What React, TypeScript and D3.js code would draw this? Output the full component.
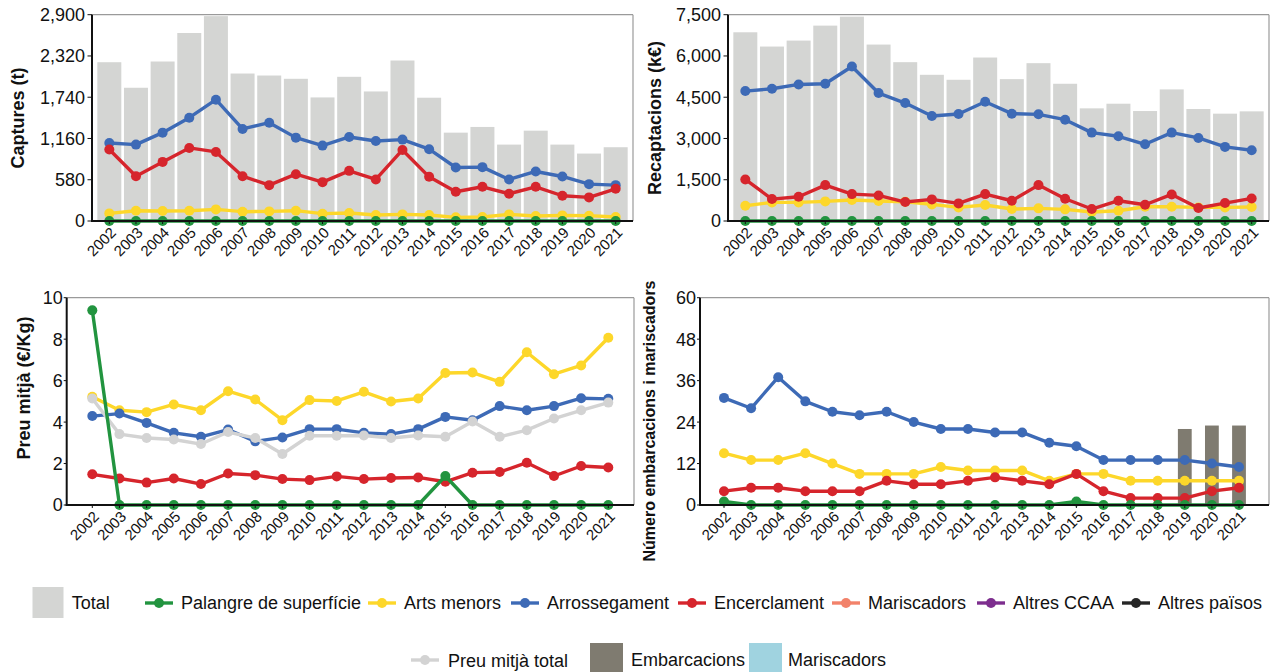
import React from 'react';
import * as d3 from 'd3';

// ---------- DATA ----------
const years = ['2002','2003','2004','2005','2006','2007','2008','2009','2010','2011','2012','2013','2014','2015','2016','2017','2018','2019','2020','2021'];

// Captures (t)
const capTotal = [2232,1873,2242,2643,2880,2073,2045,1999,1737,2027,1821,2256,1733,1242,1322,1074,1270,1074,948,1037];
const capPalangre = [0,0,0,0,0,0,0,0,0,0,0,0,0,0,0,0,0,0,0,0];
const capArts = [107,145,140,145,163,131,135,145,103,112,84,93,84,51,56,93,70,79,75,56];
const capArros = [1097,1074,1242,1452,1705,1294,1382,1172,1060,1181,1125,1144,1009,752,757,584,696,626,518,504];
const capEncer = [1004,630,831,1027,971,630,504,658,546,705,584,999,621,411,481,383,481,355,332,453];

// Recaptacions (k€)
const recTotal = [6861,6342,6559,7103,7429,6414,5774,5315,5134,5943,5158,5738,4989,4095,4264,3998,4784,4071,3902,3986];
const recPalangre = [0,0,0,0,0,0,0,0,0,0,0,0,0,0,0,0,0,0,0,0];
const recArts = [556,676,676,713,761,725,700,604,495,580,435,459,423,326,374,519,519,495,495,507];
const recArros = [4723,4808,4965,4989,5617,4651,4288,3817,3890,4337,3902,3878,3684,3213,3080,2790,3213,3020,2694,2573];
const recEncer = [1510,797,882,1305,978,930,689,785,640,978,737,1305,809,435,737,592,966,471,652,821];

// Preu mitjà (€/Kg)
const preuTotal = [5.14,3.42,3.23,3.16,2.94,3.52,3.23,2.46,3.34,3.34,3.35,3.23,3.35,3.29,4.03,3.29,3.61,4.17,4.57,4.94];
const preuPalangre = [9.39,0,0,0,0,0,0,0,0,0,0,0,0,1.40,0,0,0,0,0,0];
const preuArts = [5.22,4.57,4.48,4.85,4.57,5.49,5.09,4.09,5.06,5.02,5.46,4.99,5.14,6.37,6.39,5.94,7.37,6.31,6.73,8.07];
const preuArros = [4.29,4.41,3.96,3.48,3.29,3.64,3.07,3.26,3.66,3.66,3.48,3.42,3.66,4.25,4.09,4.77,4.57,4.77,5.15,5.12];
const preuEncer = [1.48,1.28,1.08,1.28,1.01,1.52,1.44,1.25,1.20,1.38,1.25,1.30,1.33,1.12,1.56,1.59,2.04,1.40,1.88,1.81];

// Número embarcacions i mariscadors
const numEmbarcacions = [null,null,null,null,null,null,null,null,null,null,null,null,null,null,null,null,null,22,23,23];
const numPalangre = [1,0,0,0,0,0,0,0,0,0,0,0,0,1,0,0,0,0,0,0];
const numArts = [15,13,13,15,12,9,9,9,11,10,10,10,7,9,9,7,7,7,7,7];
const numArros = [31,28,37,30,27,26,27,24,22,22,21,21,18,17,13,13,13,13,12,11];
const numEncer = [4,5,5,4,4,4,7,6,6,7,8,7,6,9,4,2,2,2,4,5];

const ticksCap = [0,580,1160,1740,2320,2900];
const ticksRec = [0,1500,3000,4500,6000,7500];
const ticksPreu = [0,2,4,6,8,10];
const ticksNum = [0,12,24,36,48,60];

const legendRow1 = ['Total','Palangre de superfície','Arts menors','Arrossegament','Encerclament','Mariscadors','Altres CCAA','Altres països'];
const legendRow2 = ['Preu mitjà total','Embarcacions','Mariscadors'];

// ---------- STYLE ----------
const FONT = "'Liberation Sans', Arial, Helvetica, sans-serif";
const COL = {
  green: '#22943f', yellow: '#fdd72a', blue: '#3d6ab6', red: '#d6252c', grayLine: '#d3d3d3',
  salmon: '#f2826a', purple: '#7d2e8e', dark: '#262626', bar: '#d4d5d3', emb: '#7f7b70', mar: '#a0d3e0'
};

type Series = { values: (number | null)[]; color: string };

type PanelProps = {
  x0: number; x1: number; y0: number; y1: number;
  xPos: (y: string) => number;
  yMax: number; ticks: number[]; fmt: (v: number) => string;
  bars?: (number | null)[]; barColor?: string; barX?: (y: string) => number; barW?: number;
  series: Series[];
  title: string; titleX: number; titleY: number; titleSize: number;
  labelGap: number; tickLen: number;
};

function Panel(p: PanelProps) {
  const y = d3.scaleLinear().domain([0, p.yMax]).range([p.y1, p.y0]);
  const line = d3.line<[string, number | null]>()
    .defined(d => d[1] !== null)
    .x(d => p.xPos(d[0]))
    .y(d => y(d[1] as number));
  return (
    <g>
      {p.bars && p.bars.map((v, i) => v === null ? null : (
        <rect key={'b' + i} x={p.barX!(years[i])} width={p.barW} y={y(v)} height={y(0) - y(v)} fill={p.barColor} />
      ))}
      {/* frame */}
      <line x1={p.x0} x2={p.x1} y1={p.y0} y2={p.y0} stroke="#9a9a9a" strokeWidth={1.2} />
      <line x1={p.x1} x2={p.x1} y1={p.y0} y2={p.y1} stroke="#9a9a9a" strokeWidth={1.2} />
      {p.series.map((s, si) => {
        const pts = years.map((yr, i) => [yr, s.values[i]] as [string, number | null]);
        return (
          <g key={'s' + si}>
            <path d={line(pts) || ''} fill="none" stroke={s.color} strokeWidth={3.4} strokeLinejoin="round" />
            {pts.filter(d => d[1] !== null).map((d, i) => (
              <circle key={i} cx={p.xPos(d[0])} cy={y(d[1] as number)} r={5} fill={s.color} />
            ))}
          </g>
        );
      })}
      <line x1={p.x0} x2={p.x0} y1={p.y0} y2={p.y1 + 1} stroke="#111" strokeWidth={2} />
      <line x1={p.x0 - 1} x2={p.x1} y1={p.y1} y2={p.y1} stroke="#111" strokeWidth={2} />
      {p.ticks.map(t => (
        <g key={'t' + t}>
          <line x1={p.x0 - p.tickLen} x2={p.x0} y1={y(t)} y2={y(t)} stroke="#111" strokeWidth={1} />
          <text x={p.x0 - p.labelGap} y={y(t)} dy="0.36em" textAnchor="end" fontSize={18} fill="#111">{p.fmt(t)}</text>
        </g>
      ))}
      {years.map(yr => (
        <g key={'x' + yr}>
          <line x1={p.xPos(yr)} x2={p.xPos(yr)} y1={p.y1} y2={p.y1 + 3} stroke="#111" strokeWidth={1} />
          <text transform={`translate(${p.xPos(yr)},${p.y1 + 5}) rotate(-45)`} dy="0.72em" textAnchor="end" fontSize={15} fill="#111">{yr}</text>
        </g>
      ))}
      <text transform={`translate(${p.titleX},${p.titleY}) rotate(-90)`} textAnchor="middle" fontWeight="bold" fontSize={p.titleSize} fill="#111">{p.title}</text>
    </g>
  );
}

export default function App() {
  const fmtComma = d3.format(',');
  const fmtPlain = d3.format('d');

  const xTL = d3.scaleBand<string>().domain(years).range([92, 633]).paddingInner(0.1).paddingOuter(0.2);
  const xTR = d3.scaleBand<string>().domain(years).range([728, 1269]).paddingInner(0.1).paddingOuter(0.2);
  const xBL = d3.scalePoint<string>().domain(years).range([92.3, 608.3]);
  const xBR = d3.scalePoint<string>().domain(years).range([724, 1239]);

  const seriesOrder = (arts: any[], arros: any[], encer: any[], palangre: any[], total?: any[]): Series[] => {
    const s: Series[] = [
      { values: arts, color: COL.yellow },
      { values: arros, color: COL.blue },
      { values: encer, color: COL.red },
    ];
    if (total) s.push({ values: total, color: COL.grayLine });
    s.push({ values: palangre, color: COL.green });
    return s;
  };

  const legendLineItems = [
    { x: 145, label: legendRow1[1], color: COL.green },
    { x: 368, label: legendRow1[2], color: COL.yellow },
    { x: 511, label: legendRow1[3], color: COL.blue },
    { x: 678, label: legendRow1[4], color: COL.red },
    { x: 832, label: legendRow1[5], color: COL.salmon },
    { x: 977, label: legendRow1[6], color: COL.purple },
    { x: 1122, label: legendRow1[7], color: COL.dark },
  ];

  const LineGlyph = ({ x, y, color }: { x: number; y: number; color: string }) => (
    <g>
      <line x1={x} x2={x + 28} y1={y} y2={y} stroke={color} strokeWidth={3.4} />
      <circle cx={x + 14} cy={y} r={5} fill={color} />
    </g>
  );

  return (
    <svg width={1270} height={672} style={{ position: 'absolute', left: 0, top: 0, background: '#fff' }} fontFamily={FONT}>
      <rect width={1270} height={672} fill="#fff" />
      <Panel x0={92} x1={633} y0={14.7} y1={221} xPos={yr => (xTL(yr) as number) + xTL.bandwidth() / 2}
        yMax={2900} ticks={ticksCap} fmt={fmtComma}
        bars={capTotal} barColor={COL.bar} barX={yr => xTL(yr) as number} barW={xTL.bandwidth()}
        series={seriesOrder(capArts, capArros, capEncer, capPalangre)}
        title="Captures (t)" titleX={24} titleY={118} titleSize={18} labelGap={7} tickLen={4.5} />
      <Panel x0={728} x1={1269} y0={14.7} y1={221} xPos={yr => (xTR(yr) as number) + xTR.bandwidth() / 2}
        yMax={7500} ticks={ticksRec} fmt={fmtComma}
        bars={recTotal} barColor={COL.bar} barX={yr => xTR(yr) as number} barW={xTR.bandwidth()}
        series={seriesOrder(recArts, recArros, recEncer, recPalangre)}
        title="Recaptacions (k€)" titleX={661} titleY={118} titleSize={18} labelGap={7} tickLen={4.5} />
      <Panel x0={66.7} x1={634} y0={297.7} y1={505} xPos={yr => xBL(yr) as number}
        yMax={10} ticks={ticksPreu} fmt={fmtPlain}
        series={seriesOrder(preuArts, preuArros, preuEncer, preuPalangre, preuTotal)}
        title="Preu mitjà (€/Kg)" titleX={30} titleY={388} titleSize={18} labelGap={4} tickLen={3} />
      <Panel x0={700} x1={1269} y0={297.7} y1={505} xPos={yr => xBR(yr) as number}
        yMax={60} ticks={ticksNum} fmt={fmtPlain}
        bars={numEmbarcacions} barColor={COL.emb} barX={yr => (xBR(yr) as number) - 6.9} barW={13.8}
        series={seriesOrder(numArts, numArros, numEncer, numPalangre)}
        title="Número embarcacions i mariscadors" titleX={655} titleY={421} titleSize={16} labelGap={4} tickLen={3} />

      {/* legend row 1 */}
      <rect x={32.5} y={587} width={31} height={31} fill={COL.bar} />
      <text x={71.7} y={603} dy="0.36em" fontSize={18} fill="#111">{legendRow1[0]}</text>
      {legendLineItems.map(it => (
        <g key={it.label}>
          <LineGlyph x={it.x} y={603} color={it.color} />
          <text x={it.x + 36} y={603} dy="0.36em" fontSize={18} fill="#111">{it.label}</text>
        </g>
      ))}
      {/* legend row 2 */}
      <LineGlyph x={411} y={660} color={COL.grayLine} />
      <text x={448} y={661} dy="0.36em" fontSize={18} fill="#111">{legendRow2[0]}</text>
      <rect x={590} y={643} width={33} height={31} fill={COL.emb} />
      <text x={631} y={660} dy="0.36em" fontSize={18} fill="#111">{legendRow2[1]}</text>
      <rect x={749} y={643} width={33} height={31} fill={COL.mar} />
      <text x={788} y={660} dy="0.36em" fontSize={18} fill="#111">{legendRow2[2]}</text>
    </svg>
  );
}
